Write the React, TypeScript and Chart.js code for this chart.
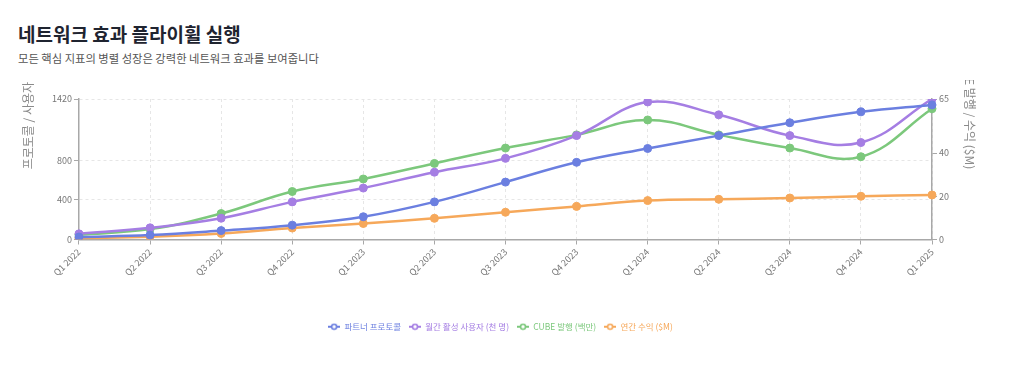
import React, { useEffect, useRef } from 'react';
import { Chart, registerables } from 'chart.js';

Chart.register(...registerables);

const FONT = "'Noto Sans CJK KR', 'Noto Sans', sans-serif";

const chartTitle = '네트워크 효과 플라이휠 실행';
const chartSubtitle = '모든 핵심 지표의 병렬 성장은 강력한 네트워크 효과를 보여줍니다';
const leftAxisTitle = '프로토콜 / 사용자 (천)';
const rightAxisTitle = 'CUBE 발행 / 수익 ($M)';

const quarters = [
  'Q1 2022', 'Q2 2022', 'Q3 2022', 'Q4 2022',
  'Q1 2023', 'Q2 2023', 'Q3 2023', 'Q4 2023',
  'Q1 2024', 'Q2 2024', 'Q3 2024', 'Q4 2024',
  'Q1 2025',
];

const seriesNames = ['파트너 프로토콜', '월간 활성 사용자 (천 명)', 'CUBE 발행 (백만)', '연간 수익 ($M)'];
const seriesColors = ['#6b7fe0', '#a57ee3', '#7cc87c', '#f6a85a'];

// left axis
const partnerProtocols = [25, 45, 90, 145, 230, 380, 580, 780, 920, 1050, 1180, 1290, 1360];
const monthlyActiveUsers = [57, 118, 215, 380, 520, 680, 820, 1050, 1390, 1260, 1050, 980, 1420];
// right axis
const cubeIssued = [2.2, 4.8, 12.0, 22.2, 28.0, 35.2, 42.3, 48.4, 55.3, 48.4, 42.3, 38.3, 60.5];
const annualRevenue = [0.6, 1.3, 2.8, 5.3, 7.4, 9.8, 12.6, 15.3, 18.0, 18.6, 19.2, 20.0, 20.6];

const leftTicks = [0, 400, 800, 1420];
const rightTicks = [0, 20, 40, 65];

function makeMarker(color: string): HTMLCanvasElement {
  const c = document.createElement('canvas');
  c.width = 12;
  c.height = 8;
  const g = c.getContext('2d') as CanvasRenderingContext2D;
  g.strokeStyle = color;
  g.lineWidth = 2;
  g.beginPath();
  g.moveTo(0, 4);
  g.lineTo(12, 4);
  g.stroke();
  g.beginPath();
  g.arc(6, 4, 2.5, 0, Math.PI * 2);
  g.fillStyle = '#ffffff';
  g.fill();
  g.lineWidth = 1.6;
  g.stroke();
  return c;
}

const sideTitles = {
  id: 'sideTitles',
  afterDraw(chart: any) {
    const { ctx, chartArea, width } = chart;
    const midY = (chartArea.top + chartArea.bottom) / 2;
    ctx.save();
    ctx.font = `12px ${FONT}`;
    ctx.fillStyle = '#8a8a8a';
    ctx.textBaseline = 'middle';
    ctx.translate(10, midY);
    ctx.rotate(-Math.PI / 2);
    ctx.textAlign = 'left';
    ctx.fillText(leftAxisTitle, 0, 0);
    ctx.restore();
    ctx.save();
    ctx.font = `12px ${FONT}`;
    ctx.fillStyle = '#8a8a8a';
    ctx.textBaseline = 'middle';
    ctx.translate(width - 12, midY);
    ctx.rotate(Math.PI / 2);
    ctx.textAlign = 'right';
    ctx.fillText(rightAxisTitle, 0, 0);
    ctx.restore();
  },
};

export default function App() {
  const canvasRef = useRef<HTMLCanvasElement | null>(null);

  useEffect(() => {
    if (!canvasRef.current) return;
    Chart.defaults.font.family = FONT;
    const markers = seriesColors.map(makeMarker);
    const mk = (i: number, data: number[], axis: string) => ({
      label: seriesNames[i],
      data,
      yAxisID: axis,
      borderColor: seriesColors[i],
      backgroundColor: seriesColors[i],
      pointBackgroundColor: seriesColors[i],
      pointBorderColor: seriesColors[i],
      borderWidth: 2.5,
      pointRadius: 4,
      pointBorderWidth: 1,
      pointHoverRadius: 6,
      tension: 0.4,
      fill: false,
    });

    const gridColor = '#e6e6e6';
    const axisColor = '#a8a8a8';
    const tickFont = { size: 9, family: FONT };

    const chart = new Chart(canvasRef.current, {
      type: 'line',
      data: {
        labels: quarters,
        datasets: [
          mk(0, partnerProtocols, 'y'),
          mk(1, monthlyActiveUsers, 'y'),
          mk(2, cubeIssued, 'y1'),
          mk(3, annualRevenue, 'y1'),
        ],
      },
      options: {
        responsive: true,
        maintainAspectRatio: false,
        animation: false,
        layout: { padding: { top: 19, left: 32, right: 31, bottom: 10 } },
        plugins: {
          legend: {
            position: 'bottom',
            labels: {
              usePointStyle: true,
              pointStyleWidth: 12,
              padding: 8,
              font: { size: 8.5, family: FONT },
              generateLabels: (c: any) => {
                const items = Chart.defaults.plugins.legend.labels.generateLabels(c);
                return items.map((it: any, i: number) => ({
                  ...it,
                  pointStyle: markers[i],
                  fontColor: seriesColors[i],
                }));
              },
            },
          },
          tooltip: { enabled: true },
        },
        scales: {
          x: {
            grid: { color: gridColor, tickLength: 5, tickColor: axisColor },
            border: { color: axisColor, width: 1.5, dash: [3, 3] },
            ticks: { color: '#777', font: tickFont, maxRotation: 45, minRotation: 45, padding: 2, autoSkip: false },
            afterFit: (s: any) => {
              s.height = 75;
            },
          },
          y: {
            position: 'left',
            min: 0,
            max: leftTicks[leftTicks.length - 1],
            afterBuildTicks: (s: any) => {
              s.ticks = leftTicks.map((v) => ({ value: v }));
            },
            ticks: { color: '#777', font: tickFont, padding: 2, callback: (v: any) => String(v) },
            grid: { color: gridColor, tickLength: 5, tickColor: axisColor },
            border: { color: axisColor, width: 1.5, dash: [3, 3] },
          },
          y1: {
            position: 'right',
            min: 0,
            max: rightTicks[rightTicks.length - 1],
            afterBuildTicks: (s: any) => {
              s.ticks = rightTicks.map((v) => ({ value: v }));
            },
            ticks: { color: '#777', font: tickFont, padding: 2, callback: (v: any) => String(v) },
            grid: { drawOnChartArea: false, tickLength: 5, tickColor: axisColor, color: gridColor },
            border: { color: axisColor, width: 1.5 },
          },
        },
      },
      plugins: [sideTitles],
    } as any);
    return () => chart.destroy();
  }, []);

  return (
    <div style={{ padding: '0 10px', fontFamily: FONT }}>
      <div style={{ marginTop: 12, fontSize: 19, fontWeight: 700, lineHeight: '28px', color: '#1f2430' }}>
        {chartTitle}
      </div>
      <div style={{ marginTop: 2, fontSize: 11.3, lineHeight: '16px', color: '#555' }}>{chartSubtitle}</div>
      <div style={{ position: 'relative', marginTop: 14, width: 964, height: 271 }}>
        <canvas ref={canvasRef} />
      </div>
    </div>
  );
}
